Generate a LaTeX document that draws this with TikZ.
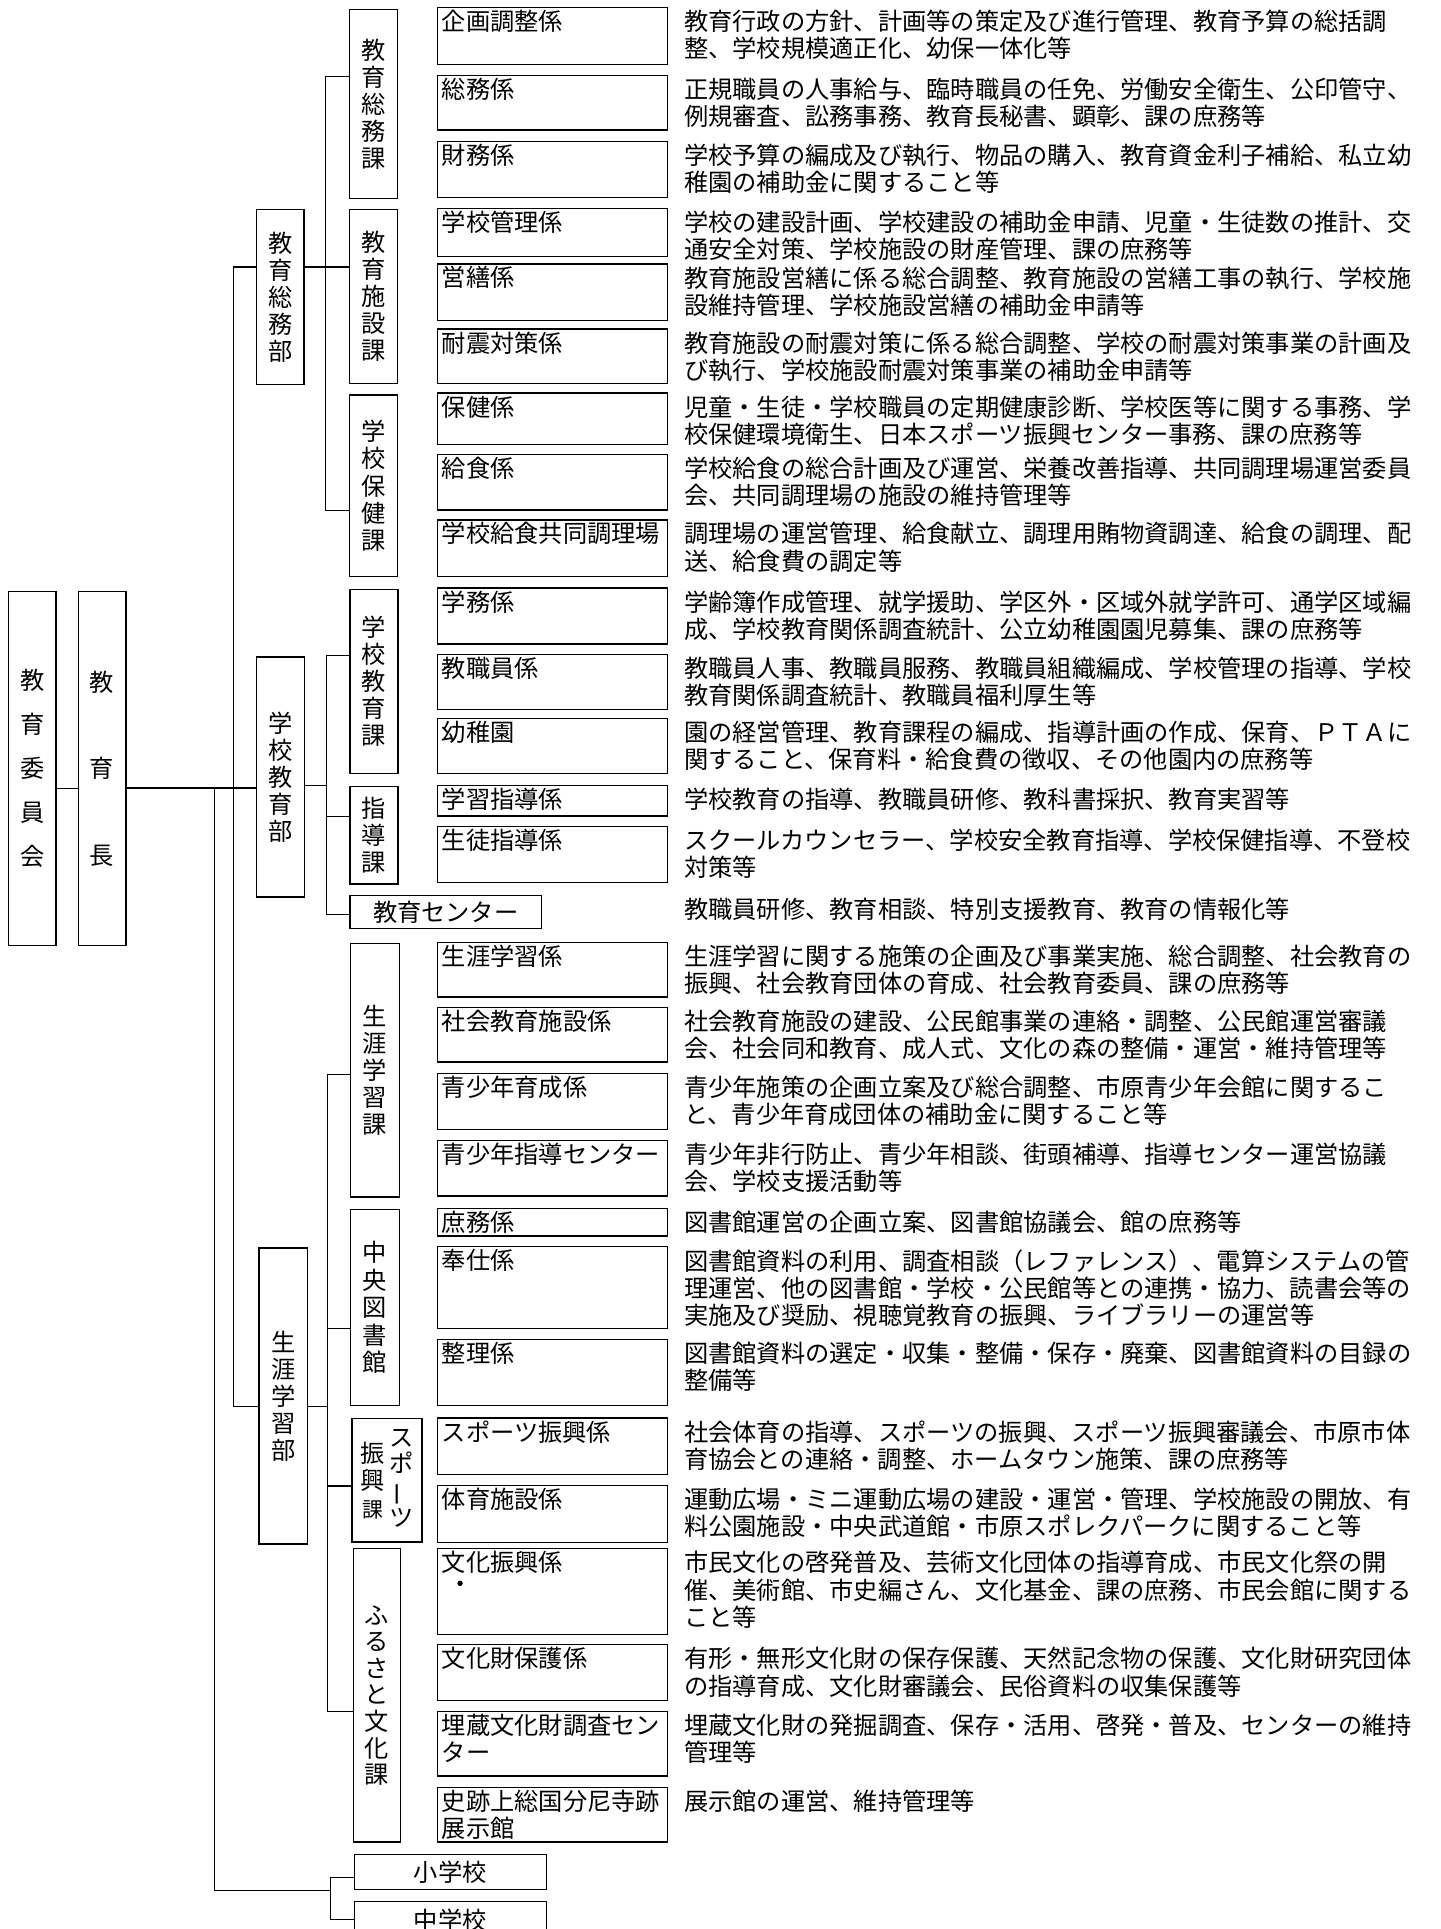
\documentclass[tikz,border=0pt]{standalone}
\usepackage{fontspec}
\usepackage{graphicx}
\newfontfamily\jp{Noto Sans CJK JP}
\newcommand\jpf{\jp\fontsize{19.7}{22}\selectfont}
\tikzset{
  bx/.style={draw, line width=1.1pt, inner sep=0pt, anchor=north west},
  ln/.style={line width=0.9pt},
  txt/.style={font=\jpf, inner sep=0pt, anchor=north west, align=left},
  vt/.style={font=\jpf, inner sep=0pt, align=center},
}
% name, top, height, label, description
\newcommand\kakari[5]{%
  \node[bx, minimum width=187pt, minimum height=#3pt] (#1) at (355,#2) {};
  \node[txt] (#1l) at ([shift={(4,2.5)}]#1.north west) {#4};
  \node[txt] (#1d) at ([shift={(201,2.5)}]#1.north west) {#5};
}
\begin{document}
\begin{tikzpicture}[x=1pt,y=-1pt]
\useasboundingbox (0,0) rectangle (1171,1568);

% level 1
\node[bx, minimum width=38.7pt, minimum height=287.5pt, vt, font=\jp\fontsize{19.7}{35.7}\selectfont] (a1) at (6.3,480.5) {教\\育\\委\\員\\会};
\node[bx, minimum width=38.8pt, minimum height=287.5pt, vt, font=\jp\fontsize{19.7}{70.5}\selectfont] (a2) at (63,480.5) {教\\育\\長};

% level 2
\node[bx, minimum width=38.5pt, minimum height=142pt, vt] (b1) at (208,170) {教\\育\\総\\務\\部};
\node[bx, minimum width=38.5pt, minimum height=195.1pt, vt] (b2) at (208.2,533.5) {学\\校\\教\\育\\部};
\node[bx, minimum width=39.4pt, minimum height=240.4pt, vt] (b3) at (210,1014) {生\\涯\\学\\習\\部};

% level 3
\node[bx, minimum width=39pt, minimum height=154pt, vt] (ka1) at (283.5,7) {教\\育\\総\\務\\課};
\node[bx, minimum width=39pt, minimum height=141pt, vt] (ka2) at (283.5,170) {教\\育\\施\\設\\課};
\node[bx, minimum width=39pt, minimum height=147.4pt, vt] (ka3) at (283.5,320.6) {学\\校\\保\\健\\課};
\node[bx, minimum width=39pt, minimum height=150pt, vt] (ka4) at (284,478.4) {学\\校\\教\\育\\課};
\node[bx, minimum width=39pt, minimum height=79.3pt, vt] (ka5) at (284,638.7) {指\\導\\課};
\node[bx, minimum width=155.5pt, minimum height=26.6pt, vt] (ka6) at (284,727.4) {教育センター};
\node[bx, minimum width=39.5pt, minimum height=206.1pt, vt] (ka7) at (284.5,766.3) {生\\涯\\学\\習\\課};
\node[bx, minimum width=39.5pt, minimum height=159.5pt, vt, font=\jp\fontsize{19.7}{22.3}\selectfont] (ka8) at (284.5,982.5) {中\\央\\図\\書\\館};
\node[bx, minimum width=57pt, minimum height=100.4pt] (ka9) at (285.5,1152.6) {};
\node[vt, font=\jp\fontsize{19.7}{21.7}\selectfont] (ka9r) at ([xshift=11.5pt,yshift=2pt]ka9.center) {ス\\ポ\\\rotatebox[origin=c]{90}{ー}\\ツ};
\node[vt, font=\jp\fontsize{19.7}{22.3}\selectfont] (ka9l) at ([xshift=-11.8pt]ka9.center) {振\\興\\{\fontsize{17}{22}\selectfont 課}};
\node[bx, minimum width=38.2pt, minimum height=238.4pt, vt, font=\jp\fontsize{19.7}{21.6}\selectfont] (ka10) at (286.8,1258.4) {ふ\\る\\さ\\と\\文\\化\\課};
\node[bx, minimum width=156pt, minimum height=28.5pt, vt] (ka11) at (287.5,1507) {小学校};
\node[bx, minimum width=156pt, minimum height=30pt, vt] (ka12) at (287.5,1545) {中学校};
\node[txt] (ka6d) at ([shift={(272,2.5)}]ka6.north west) {教職員研修、教育相談、特別支援教育、教育の情報化等};

% level 4
\kakari{k1}{5.6}{46.4}{企画調整係}{教育行政の方針、計画等の策定及び進行管理、教育予算の総括調\\整、学校規模適正化、幼保一体化等}
\kakari{k2}{61}{44}{総務係}{正規職員の人事給与、臨時職員の任免、労働安全衛生、公印管守、\\例規審査、訟務事務、教育長秘書、顕彰、課の庶務等}
\kakari{k3}{114.5}{45.5}{財務係}{学校予算の編成及び執行、物品の購入、教育資金利子補給、私立幼\\稚園の補助金に関すること等}
\kakari{k4}{169}{39}{学校管理係}{学校の建設計画、学校建設の補助金申請、児童・生徒数の推計、交\\通安全対策、学校施設の財産管理、課の庶務等}
\kakari{k5}{214}{46}{営繕係}{教育施設営繕に係る総合調整、教育施設の営繕工事の執行、学校施\\設維持管理、学校施設営繕の補助金申請等}
\kakari{k6}{267}{44}{耐震対策係}{教育施設の耐震対策に係る総合調整、学校の耐震対策事業の計画及\\び執行、学校施設耐震対策事業の補助金申請等}
\kakari{k7}{319}{42}{保健係}{児童・生徒・学校職員の定期健康診断、学校医等に関する事務、学\\校保健環境衛生、日本スポーツ振興センター事務、課の庶務等}
\kakari{k8}{369}{45}{給食係}{学校給食の総合計画及び運営、栄養改善指導、共同調理場運営委員\\会、共同調理場の施設の維持管理等}
\kakari{k9}{422}{46}{学校給食共同調理場}{調理場の運営管理、給食献立、調理用賄物資調達、給食の調理、配\\送、給食費の調定等}
\kakari{k10}{477.5}{45.5}{学務係}{学齢簿作成管理、就学援助、学区外・区域外就学許可、通学区域編\\成、学校教育関係調査統計、公立幼稚園園児募集、課の庶務等}
\kakari{k11}{531.3}{44.7}{教職員係}{教職員人事、教職員服務、教職員組織編成、学校管理の指導、学校\\教育関係調査統計、教職員福利厚生等}
\kakari{k12}{583.3}{44.7}{幼稚園}{園の経営管理、教育課程の編成、指導計画の作成、保育、ＰＴＡに\\関すること、保育料・給食費の徴収、その他園内の庶務等}
\kakari{k13}{637.8}{24.9}{学習指導係}{学校教育の指導、教職員研修、教科書採択、教育実習等}
\kakari{k14}{671.4}{45.4}{生徒指導係}{スクールカウンセラー、学校安全教育指導、学校保健指導、不登校\\対策等}
\kakari{k15}{765.4}{44.6}{生涯学習係}{生涯学習に関する施策の企画及び事業実施、総合調整、社会教育の\\振興、社会教育団体の育成、社会教育委員、課の庶務等}
\kakari{k16}{818.3}{44.5}{社会教育施設係}{社会教育施設の建設、公民館事業の連絡・調整、公民館運営審議\\会、社会同和教育、成人式、文化の森の整備・運営・維持管理等}
\kakari{k17}{872.1}{45.2}{青少年育成係}{青少年施策の企画立案及び総合調整、市原青少年会館に関するこ\\と、青少年育成団体の補助金に関すること等}
\kakari{k18}{926.6}{45}{青少年指導センター}{青少年非行防止、青少年相談、街頭補導、指導センター運営協議\\会、学校支援活動等}
\kakari{k19}{981.7}{22.3}{庶務係}{図書館運営の企画立案、図書館協議会、館の庶務等}
\kakari{k20}{1012.8}{66.7}{奉仕係}{図書館資料の利用、調査相談（レファレンス）、電算システムの管\\理運営、他の図書館・学校・公民館等との連携・協力、読書会等の\\実施及び奨励、視聴覚教育の振興、ライブラリーの運営等}
\kakari{k21}{1088}{54}{整理係}{図書館資料の選定・収集・整備・保存・廃棄、図書館資料の目録の\\整備等}
\kakari{k22}{1152}{45.8}{スポーツ振興係}{社会体育の指導、スポーツの振興、スポーツ振興審議会、市原市体\\育協会との連絡・調整、ホームタウン施策、課の庶務等}
\kakari{k23}{1206.7}{46.5}{体育施設係}{運動広場・ミニ運動広場の建設・運営・管理、学校施設の開放、有\\料公園施設・中央武道館・市原スポレクパークに関すること等}
\kakari{k24}{1258.4}{69.9}{文化振興係}{市民文化の啓発普及、芸術文化団体の指導育成、市民文化祭の開\\催、美術館、市史編さん、文化基金、課の庶務、市民会館に関する\\こと等}
\kakari{k25}{1336.4}{45.3}{文化財保護係}{有形・無形文化財の保存保護、天然記念物の保護、文化財研究団体\\の指導育成、文化財審議会、民俗資料の収集保護等}
\kakari{k26}{1390.5}{52.5}{埋蔵文化財調査セン\\ター}{埋蔵文化財の発掘調査、保存・活用、啓発・普及、センターの維持\\管理等}
\kakari{k27}{1452.4}{44.4}{史跡上総国分尼寺跡\\展示館}{展示館の運営、維持管理等}
\fill (374,1287) circle (2.2pt);

% connectors: level 1
\draw[ln] (a1.east |- 0,641) -- (a2.west |- 0,641);
\draw[ln] (a2.east |- 0,640.5) -- (b2.west |- 0,640.5);
\draw[ln] (b1.west |- 0,217) -| (190,1143) -- (b3.west |- 0,1143);
\coordinate (j1) at (174,640.5);
\coordinate (j2) at (269,1537);
\draw[ln] (j1) |- (j2);
\draw[ln] (ka11.west |- 0,1526) -| (269,1560.6) -- (ka12.west |- 0,1560.6);

% 教育総務部
\draw[ln] (ka1.west |- 0,62) -| (264.5,414.6) -- (ka3.west |- 0,414.6);
\draw[ln] (b1.east |- 0,217) -- (ka2.west |- 0,217);
% 学校教育部
\draw[ln] (ka4.west |- 0,533) -| (265.5,743) -- (ka6.west |- 0,743);
\draw[ln] (b2.east |- 0,638.7) -- (265.5,638.7);
\draw[ln] (265.5,663.6) -- (ka5.west |- 0,663.6);
% 生涯学習部
\draw[ln] (ka7.west |- 0,873.7) -| (266.5,1391) -- (ka10.west |- 0,1391);
\draw[ln] (266.5,1079.8) -- (ka8.west |- 0,1079.8);
\draw[ln] (b3.east |- 0,1143.3) -- (266.5,1143.3);
\draw[ln] (266.5,1207.9) -- (ka9.west |- 0,1207.9);
\end{tikzpicture}
\end{document}
